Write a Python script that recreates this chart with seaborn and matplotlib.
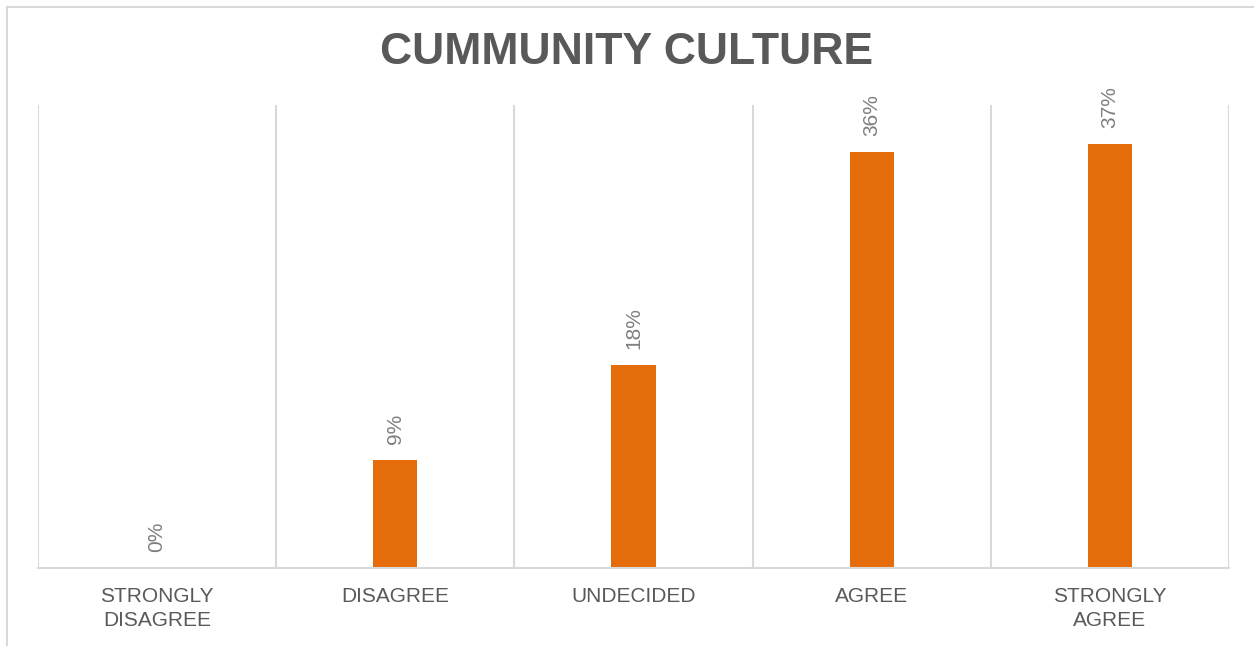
import matplotlib
matplotlib.use("Agg")
import matplotlib.pyplot as plt
import seaborn as sns
import pandas as pd
from matplotlib.patches import Rectangle

categories = ["STRONGLY\nDISAGREE", "DISAGREE", "UNDECIDED", "AGREE", "STRONGLY\nAGREE"]
values = [0.0, 9.4, 17.7, 36.2, 36.9]
labels = ["0%", "9%", "18%", "36%", "37%"]
title = "CUMMUNITY CULTURE"

sns.set_theme(style="white")
plt.rcParams['font.family'] = ['Liberation Sans', 'DejaVu Sans']

W, H = 1254, 646
fig = plt.figure(figsize=(W / 100, H / 100), dpi=100)
ax = fig.add_axes([38 / W, 1 - 568 / H, (1229 - 38) / W, (568 - 105) / H])

df = pd.DataFrame({"cat": categories, "val": values})
sns.barplot(data=df, x="cat", y="val", color="#E46C0A", saturation=1,
            width=0.185, ax=ax, edgecolor="none")

ax.set_ylim(0, 40.3)
ax.set_xlim(-0.5, len(categories) - 0.5)
ax.set_yticks([])
ax.set_xlabel("")
ax.set_ylabel("")
for s in ["left", "top", "right"]:
    ax.spines[s].set_visible(False)
ax.spines["bottom"].set_color("#d9d9d9")
ax.spines["bottom"].set_linewidth(1.5)

ax.set_xticks([i - 0.5 for i in range(len(categories) + 1)], minor=True)
ax.grid(which="minor", axis="x", color="#d9d9d9", linewidth=1.5)
ax.grid(which="major", visible=False)
ax.tick_params(axis="x", which="both", length=0, pad=14)
ax.set_xticklabels(categories, fontsize=15, color="#595959", linespacing=1.3)

for i, (v, lab) in enumerate(zip(values, labels)):
    ax.annotate(lab, (i, v), xytext=(0, 16), textcoords="offset pixels",
                rotation=90, ha="center", va="bottom", fontsize=15,
                color="#7f7f7f")

fig.text(0.5, 1 - 53 / H, title, ha="center", va="center", fontsize=32,
         fontweight="bold", color="#595959")

fig.patches.append(Rectangle((7 / W, -0.1), 1.2, 1 - 7 / H + 0.1,
                             transform=fig.transFigure, fill=False,
                             edgecolor="#d9d9d9", linewidth=1.5))

fig.savefig("out.png", dpi=100, facecolor="white")
